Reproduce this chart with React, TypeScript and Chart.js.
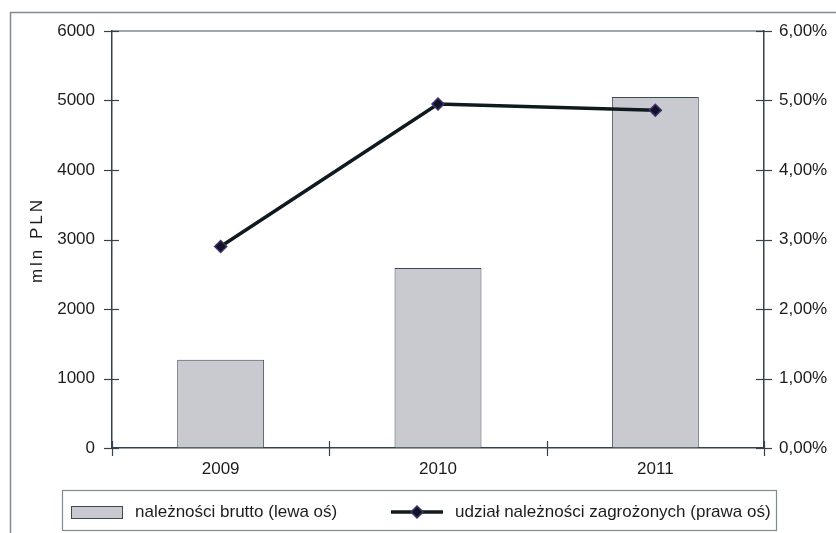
import React, { useEffect, useRef } from "react";
import { Chart, registerables } from "chart.js";

Chart.register(...registerables);

const categories = ["2009", "2010", "2011"];
const grossReceivables = [1270, 2590, 5050];
const impairedShare = [2.9, 4.95, 4.86];
const barLabel = "należności brutto (lewa oś)";
const lineLabel = "udział należności zagrożonych (prawa oś)";
const leftTitle = "mln PLN";

const FONT = "'Liberation Sans', Arial, sans-serif";
const FS = 17;
const AXIS = "#33424c";
const FRAME = "#7f8b91";
const TEXT = "#1c1c1c";

const decorPlugin = {
  id: "decor",
  beforeDraw(chart: any) {
    const ctx = chart.ctx;
    ctx.save();
    ctx.fillStyle = "#ffffff";
    ctx.fillRect(0, 0, chart.width, chart.height);
    ctx.strokeStyle = FRAME;
    ctx.lineWidth = 1.5;
    ctx.beginPath();
    ctx.moveTo(10.5, chart.height);
    ctx.lineTo(10.5, 12.5);
    ctx.lineTo(chart.width, 12.5);
    ctx.stroke();
    const a = chart.chartArea;
    ctx.beginPath();
    ctx.moveTo(a.left, a.top);
    ctx.lineTo(a.right, a.top);
    ctx.stroke();
    ctx.restore();
  },
  afterDraw(chart: any) {
    const ctx = chart.ctx;
    const a = chart.chartArea;
    ctx.save();
    ctx.strokeStyle = AXIS;
    ctx.lineWidth = 1.2;
    const y = chart.scales.y;
    y.ticks.forEach((_t: any, i: number) => {
      const p = Math.round(y.getPixelForTick(i)) + 0.5;
      ctx.beginPath();
      ctx.moveTo(a.left - 8, p);
      ctx.lineTo(a.left + 7, p);
      ctx.stroke();
    });
    const y1 = chart.scales.y1;
    y1.ticks.forEach((_t: any, i: number) => {
      const p = Math.round(y1.getPixelForTick(i)) + 0.5;
      ctx.beginPath();
      ctx.moveTo(a.right - 8, p);
      ctx.lineTo(a.right + 8, p);
      ctx.stroke();
    });
    const x = chart.scales.x;
    const n = categories.length;
    for (let i = 0; i <= n; i++) {
      const p = Math.round(x.left + (i * (x.right - x.left)) / n) + 0.5;
      ctx.beginPath();
      ctx.moveTo(p, a.bottom - 7);
      ctx.lineTo(p, a.bottom + 8);
      ctx.stroke();
    }

    // left axis title
    ctx.save();
    ctx.translate(37, (a.top + a.bottom) / 2 + 2);
    ctx.rotate(-Math.PI / 2);
    ctx.font = `${FS}px ${FONT}`;
    (ctx as any).letterSpacing = "3px";
    ctx.fillStyle = TEXT;
    ctx.textAlign = "center";
    ctx.textBaseline = "middle";
    ctx.fillText(leftTitle, 1.5, 0);
    ctx.restore();

    // legend
    const bx = 62, by = 490, bw = 714, bh = 40;
    ctx.strokeStyle = FRAME;
    ctx.lineWidth = 1.2;
    ctx.strokeRect(bx + 0.5, by + 0.5, bw, bh);
    const cy = by + bh / 2 + 2;
    const ds0 = chart.data.datasets[0];
    const ds1 = chart.data.datasets[1];
    ctx.fillStyle = ds0.backgroundColor;
    ctx.fillRect(71, cy - 6, 51, 12);
    ctx.strokeStyle = ds0.borderColor;
    ctx.lineWidth = 1;
    ctx.strokeRect(71.5, cy - 5.5, 51, 12);
    ctx.font = `${FS}px ${FONT}`;
    ctx.fillStyle = TEXT;
    ctx.textBaseline = "middle";
    ctx.textAlign = "left";
    ctx.fillText(ds0.label, 135, cy);
    ctx.strokeStyle = ds1.borderColor;
    ctx.lineWidth = 3.5;
    ctx.beginPath();
    ctx.moveTo(391, cy);
    ctx.lineTo(443, cy);
    ctx.stroke();
    ctx.beginPath();
    ctx.moveTo(417, cy - 6);
    ctx.lineTo(423, cy);
    ctx.lineTo(417, cy + 6);
    ctx.lineTo(411, cy);
    ctx.closePath();
    ctx.fillStyle = ds1.pointBackgroundColor;
    ctx.fill();
    ctx.strokeStyle = ds1.pointBorderColor;
    ctx.lineWidth = 1.5;
    ctx.stroke();
    ctx.fillStyle = TEXT;
    ctx.fillText(ds1.label, 455, cy);
    ctx.restore();
  },
};

export default function App() {
  const ref = useRef<HTMLCanvasElement | null>(null);
  useEffect(() => {
    if (!ref.current) return;
    const chart = new Chart(ref.current, {
      type: "bar",
      data: {
        labels: categories,
        datasets: [
          {
            type: "bar",
            label: barLabel,
            data: grossReceivables,
            backgroundColor: "#c9cad0",
            borderColor: "#3a4a55",
            borderWidth: 1,
            barPercentage: 0.4,
            categoryPercentage: 1,
            yAxisID: "y",
            order: 1,
          } as any,
          {
            type: "line",
            label: lineLabel,
            data: impairedShare,
            borderColor: "#0f1a1f",
            borderWidth: 3.5,
            pointStyle: "rectRot",
            pointRadius: 6,
            pointBackgroundColor: "#121225",
            pointBorderColor: "#3d3270",
            pointBorderWidth: 1.5,
            yAxisID: "y1",
            order: 0,
          } as any,
        ],
      },
      options: {
        responsive: false,
        animation: false,
        devicePixelRatio: 1,
        layout: { padding: { top: 31, left: 0, right: 0, bottom: 0 } },
        plugins: { legend: { display: false }, tooltip: { enabled: false } },
        scales: {
          x: {
            grid: { display: true, drawOnChartArea: false, tickLength: 8, tickColor: "transparent", offset: true },
            border: { display: true, color: AXIS, width: 1.5 },
            ticks: { color: TEXT, font: { family: FONT, size: FS }, padding: 3 },
            afterFit: (s: any) => { s.height = 85; },
          },
          y: {
            position: "left",
            min: 0,
            max: 6000,
            ticks: {
              stepSize: 1000,
              color: TEXT,
              font: { family: FONT, size: FS },
              padding: 9,
              callback: (v: any) => String(v),
            },
            grid: { display: true, drawOnChartArea: false, tickLength: 8, tickColor: "transparent" },
            border: { display: true, color: AXIS, width: 1.5 },
            afterFit: (s: any) => { s.width = 112; },
          },
          y1: {
            position: "right",
            min: 0,
            max: 6,
            ticks: {
              stepSize: 1,
              color: TEXT,
              font: { family: FONT, size: FS },
              padding: 7,
              callback: (v: any) => Number(v).toFixed(2).replace(".", ",") + "%",
            },
            grid: { display: true, drawOnChartArea: false, tickLength: 8, tickColor: "transparent" },
            border: { display: true, color: AXIS, width: 1.5 },
            afterFit: (s: any) => { s.width = 72; },
          },
        },
      },
      plugins: [decorPlugin],
    });
    return () => chart.destroy();
  }, []);
  return (
    <div style={{ position: "absolute", left: 0, top: 0, width: 836, height: 533 }}>
      <canvas ref={ref} width={836} height={533} style={{ display: "block" }} />
    </div>
  );
}
